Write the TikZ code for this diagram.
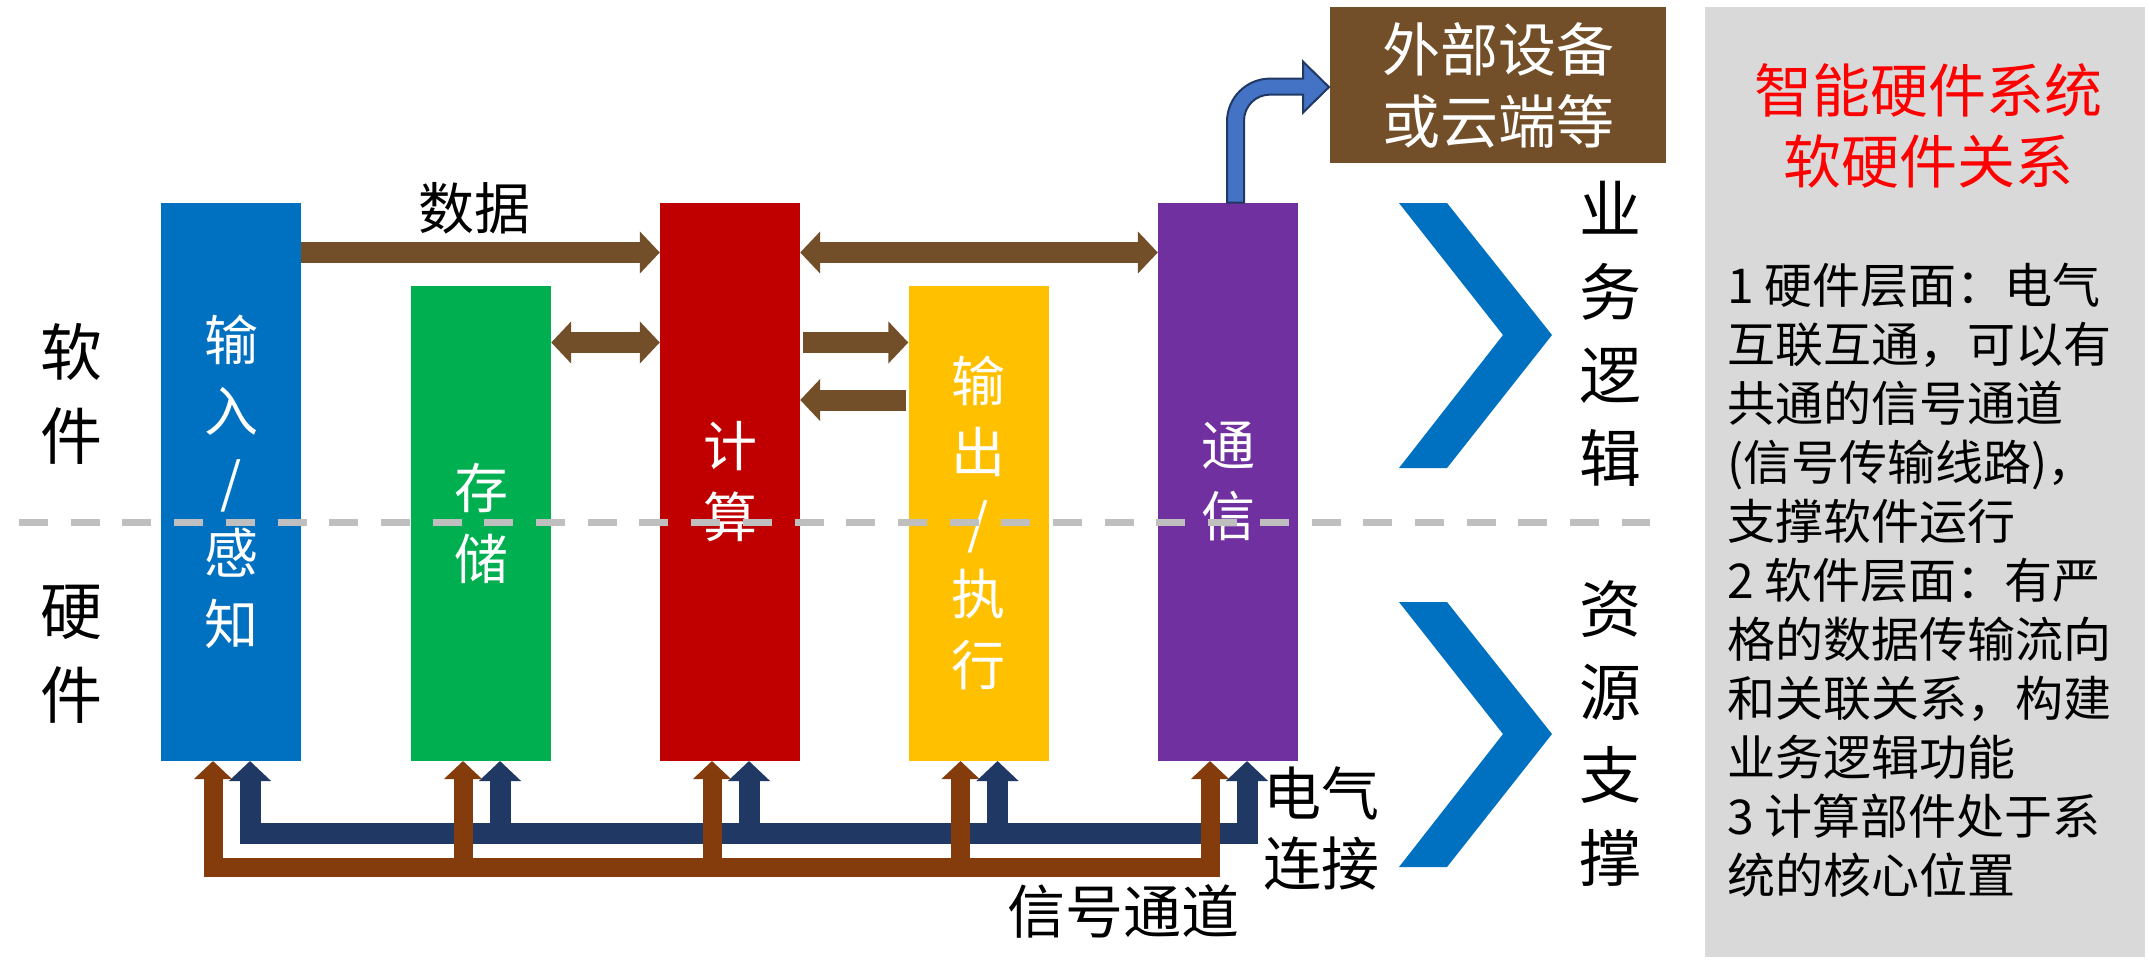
\documentclass[tikz,border=0pt]{standalone}
\usepackage{fontspec}
\setmainfont{Noto Sans CJK SC}
\usetikzlibrary{calc,arrows.meta,positioning}
\definecolor{sensc}{HTML}{0070C0}
\definecolor{storc}{HTML}{00B050}
\definecolor{compc}{HTML}{C00000}
\definecolor{actc}{HTML}{FFC000}
\definecolor{commc}{HTML}{7030A0}
\definecolor{datac}{HTML}{724F29}
\definecolor{sigc}{HTML}{843C0C}
\definecolor{elec}{HTML}{203864}
\definecolor{linkc}{HTML}{4472C4}
\definecolor{panelc}{HTML}{D9D9D9}
\definecolor{dashc}{HTML}{BFBFBF}
\tikzset{
  blk/.style={anchor=south,minimum width=140pt,inner sep=0pt,align=center,text=white,font=\fontsize{54}{71}\selectfont},
  dar/.style={datac,line width=21pt,-{Triangle[width=41pt,length=20pt]}},
  ddar/.style={datac,line width=21pt,{Triangle[width=41pt,length=20pt]}-{Triangle[width=41pt,length=20pt]}},
  sar/.style={sigc,line width=19pt,-{Triangle[width=37pt,length=18pt]}},
  ear/.style={elec,line width=21pt,-{Triangle[width=41pt,length=20pt]}},
  lbl/.style={inner sep=0pt,align=center,font=\fontsize{58}{70}\selectfont},
  side/.style={inner sep=0pt,align=center,font=\fontsize{62}{84}\selectfont}
}
\begin{document}
\begin{tikzpicture}[x=1pt,y=-1pt]
\useasboundingbox[fill=white] (0,0) rectangle (2149,978);
% function blocks
\node[blk,fill=sensc,minimum height=558pt] (in) at (231,761) {输\\入\\/\\感\\知};
\node[blk,fill=storc,minimum height=475pt] (mem) at (481,761) {存\\储};
\node[blk,fill=compc,minimum height=558pt] (cpu) at (730,761) {计\\算};
\node[blk,fill=actc,minimum height=475pt] (out) at (978.5,761) {输\\出\\/\\执\\行};
\node[blk,fill=commc,minimum height=558pt] (comm) at (1228,761) {通\\信};
\node[lbl,fill=datac,text=white,minimum width=336pt,minimum height=156pt,font=\fontsize{58}{72}\selectfont] (ext) at (1498,85) {外部设备\\或云端等};
% software / hardware divider
\draw[dashc,line width=7pt,dash pattern=on 29pt off 22.7pt] (19,522) -- (1650,522);
\node[side] (sw) at (71,394) {软\\件};
\node[side] (hw) at (71,654) {硬\\件};
% data flow
\draw[dar] (in.east |- 0,252.5) -- (cpu.west |- 0,252.5);
\draw[ddar] (mem.east |- 0,342.5) -- (cpu.west |- 0,342.5);
\draw[dar,shorten <=3pt] (cpu.east |- 0,342.5) -- (out.west |- 0,342.5);
\draw[dar,shorten <=2pt] (out.west |- 0,400) -- (cpu.east |- 0,400);
\draw[ddar] (cpu.east |- 0,252.5) -- (comm.west |- 0,252.5);
\node[lbl,font=\fontsize{56}{70}\selectfont] (dlab) at (474.5,208) {数据};
% link to outside
\begin{scope}[shift={(comm.north)}]
\filldraw[fill=linkc,draw=elec,line width=2pt] (-1,0) -- (-1,-81) .. controls (-1,-104.7) and (18.3,-124) .. (42,-124) -- (75,-124) -- (75,-141) -- (101,-115.5) -- (75,-90) -- (75,-108) -- (42,-108) .. controls (27.6,-108) and (16,-96.4) .. (16,-82) -- (16,0) -- cycle;
\end{scope}
% electrical bus and signal channel
\draw[ear,{Triangle[width=41pt,length=20pt]}-{Triangle[width=41pt,length=20pt]}] ($(in.south)+(19,0)$) -- ($(in.south)+(19,72.5)$) -- ($(comm.south)+(19,72.5)$) -- ($(comm.south)+(19,0)$);
\foreach \b in {mem,cpu,out}{\draw[ear] ($(\b.south)+(19,72.5)$) -- ($(\b.south)+(19,0)$);}
\draw[sar,{Triangle[width=37pt,length=18pt]}-{Triangle[width=37pt,length=18pt]}] ($(in.south)+(-18,0)$) -- ($(in.south)+(-18,106.5)$) -- ($(comm.south)+(-18,106.5)$) -- ($(comm.south)+(-18,0)$);
\foreach \b in {mem,cpu,out}{\draw[sar] ($(\b.south)+(-18,106.5)$) -- ($(\b.south)+(-18,0)$);}
\node[lbl] (elab) at (1321.5,828) {电气\\连接};
\node[lbl] (slab) at (1123.5,911.5) {信号通道};
% layers
\foreach \dy in {0,399}{
 \fill[sensc] (1399,203+\dy) -- (1447,203+\dy) -- (1552,335+\dy) -- (1447,468+\dy) -- (1399,468+\dy) -- (1503,335+\dy) -- cycle;}
\node[side,font=\fontsize{62}{83}\selectfont] (biz) at (1610,334) {业\\务\\逻\\辑};
\node[side,font=\fontsize{62}{83}\selectfont] (res) at (1610,733.5) {资\\源\\支\\撑};
% summary panel
\node[fill=panelc,minimum width=440pt,minimum height=950pt,anchor=north west,inner sep=0pt] (panel) at (1705,7) {};
\node[lbl,text=red,font=\fontsize{58}{71}\selectfont] (ttl) at (1928,126) {智能硬件系统\\软硬件关系};
\node[inner sep=0pt,anchor=north west,align=left,font=\fontsize{48}{59}\selectfont] (note) at (1727,263) {1 硬件层面：电气\\互联互通，可以有\\共通的信号通道\\(信号传输线路)，\\支撑软件运行\\2 软件层面：有严\\格的数据传输流向\\和关联关系，构建\\业务逻辑功能\\3 计算部件处于系\\统的核心位置};
\end{tikzpicture}
\end{document}
